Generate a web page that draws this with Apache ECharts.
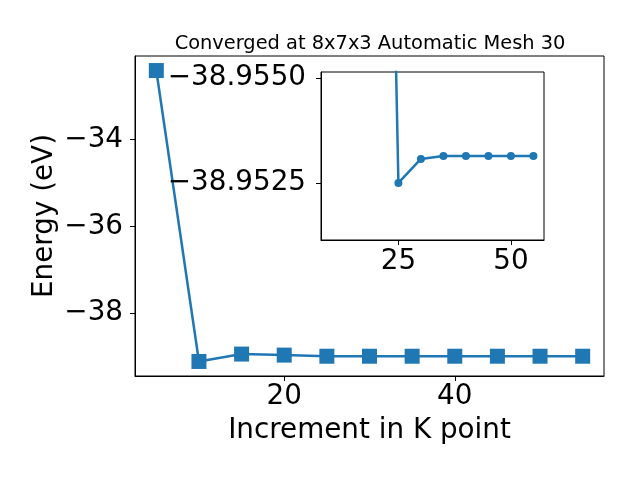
<!DOCTYPE html>
<html>
<head>
<meta charset="utf-8">
<script src="https://cdn.jsdelivr.net/npm/echarts@6/dist/echarts.min.js"></script>
<style>html,body{margin:0;padding:0;background:#fff}#c{width:640px;height:480px}</style>
</head>
<body>
<div id="c"></div>
<script>
// ---- data ----
const kpoints = [5, 10, 15, 20, 25, 30, 35, 40, 45, 50, 55];
const energy = [-32.41, -39.11, -38.94, -38.964, -38.99, -38.98943, -38.98936, -38.98936, -38.98936, -38.98936, -38.98936];
const insetStartIndex = 3;
const mainXTicks = [20, 40];
const mainYTicks = [-34, -36, -38];
const insetXTicks = [25, 50];
const insetYTickValues = [-38.9875, -38.9900];
const insetYTickLabels = ['\u221238.9550', '\u221238.9525'];
const titleText = 'Converged at 8x7x3 Automatic Mesh 30';
const xLabel = 'Increment in K point';
const yLabel = 'Energy (eV)';

const FONT = 'DejaVu Sans';
const FS = 27.8;
const BLUE = '#1f77b4';
const minus = v => String(v).replace('-', '\u2212');

const mainData = kpoints.map((k, i) => [k, energy[i]]);
const insetData = kpoints.slice(insetStartIndex).map((k, i) => [k, energy[i + insetStartIndex]]);

const yMin = Math.min(...energy), yMax = Math.max(...energy), yR = yMax - yMin;
const xMin = Math.min(...kpoints), xMax = Math.max(...kpoints), xR = xMax - xMin;

const axisCommon = {
  axisLine: {show: true, onZero: false, lineStyle: {color: '#000', width: 1}},
  axisTick: {show: true, length: 5, lineStyle: {color: '#000', width: 1}},
  splitLine: {show: false},
};

const chart = echarts.init(document.getElementById('c'), null, {renderer: 'canvas'});
chart.setOption({
  backgroundColor: '#fff',
  animation: false,
  title: {
    text: titleText, left: 365, top: 29, textAlign: 'center',
    textStyle: {fontFamily: FONT, fontSize: 19.4, fontWeight: 'normal', color: '#000'}
  },
  grid: [
    {left: 135, right: 36, top: 56, bottom: 104, show: true, borderColor: '#000', borderWidth: 1, containLabel: false, outerBoundsMode: 'none'},
    {left: 321, width: 223, top: 72, height: 168, show: true, backgroundColor: '#fff', borderColor: '#000', borderWidth: 1, containLabel: false, outerBoundsMode: 'none', z: 5}
  ],
  xAxis: [
    Object.assign({}, axisCommon, {
      type: 'value', gridIndex: 0, min: xMin - 0.05 * xR, max: xMax + 0.05 * xR,
      axisTick: Object.assign({}, axisCommon.axisTick, {customValues: mainXTicks}),
      axisLabel: {customValues: mainXTicks, fontFamily: FONT, fontSize: FS, color: '#000', margin: 7, formatter: v => minus(v)},
      name: xLabel, nameLocation: 'middle', nameGap: 41, nameMoveOverlap: false,
      nameTextStyle: {fontFamily: FONT, fontSize: FS, color: '#000'}
    }),
    Object.assign({}, axisCommon, {
      type: 'value', gridIndex: 1, min: 7.8, max: 57.35, z: 6,
      axisTick: Object.assign({}, axisCommon.axisTick, {customValues: insetXTicks}),
      axisLabel: {customValues: insetXTicks, fontFamily: FONT, fontSize: FS, color: '#000', margin: 8, formatter: v => minus(v)}
    })
  ],
  yAxis: [
    Object.assign({}, axisCommon, {
      type: 'value', gridIndex: 0, min: yMin - 0.05 * yR, max: yMax + 0.05 * yR,
      axisTick: Object.assign({}, axisCommon.axisTick, {customValues: mainYTicks}),
      axisLabel: {customValues: mainYTicks, fontFamily: FONT, fontSize: FS, color: '#000', margin: 12, formatter: v => minus(v)},
      name: yLabel, nameLocation: 'middle', nameGap: 76, nameMoveOverlap: false,
      nameTextStyle: {fontFamily: FONT, fontSize: FS, color: '#000'}
    }),
    Object.assign({}, axisCommon, {
      type: 'value', gridIndex: 1, min: -38.99136, max: -38.98736, z: 6,
      axisTick: Object.assign({}, axisCommon.axisTick, {customValues: insetYTickValues}),
      axisLabel: {
        customValues: insetYTickValues, fontFamily: FONT, fontSize: FS, color: '#000', margin: 15,
        formatter: v => {
          let best = 0;
          insetYTickValues.forEach((t, i) => { if (Math.abs(t - v) < Math.abs(insetYTickValues[best] - v)) best = i; });
          return insetYTickLabels[best];
        }
      }
    })
  ],
  series: [
    {type: 'line', xAxisIndex: 0, yAxisIndex: 0, data: mainData, symbol: 'rect', symbolSize: 15,
     showAllSymbol: true, clip: false, lineStyle: {color: BLUE, width: 2.5}, itemStyle: {color: BLUE}, z: 2},
    {type: 'line', xAxisIndex: 1, yAxisIndex: 1, data: insetData, symbol: 'circle', symbolSize: 8,
     showAllSymbol: true, clip: true, lineStyle: {color: BLUE, width: 2.5}, itemStyle: {color: BLUE}, z: 7}
  ]
});
</script>
</body>
</html>
